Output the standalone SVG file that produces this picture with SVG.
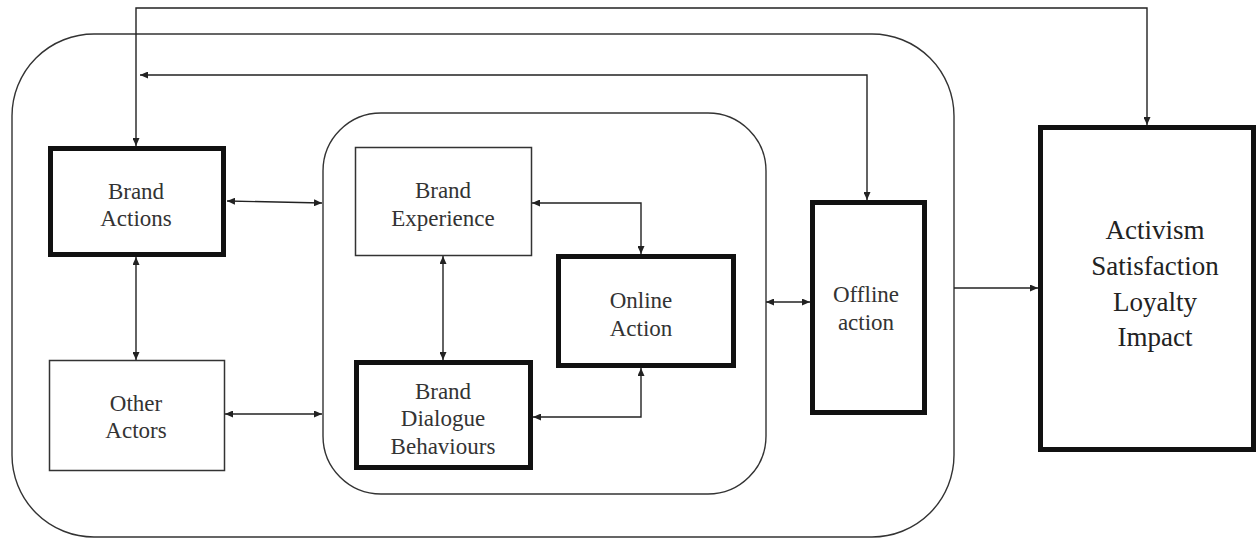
<svg xmlns="http://www.w3.org/2000/svg" width="1258" height="539" viewBox="0 0 1258 539">
  <defs>
    <marker id="arrow" markerUnits="userSpaceOnUse" markerWidth="9" markerHeight="7" refX="8" refY="3.5" orient="auto-start-reverse">
      <path d="M0,0 L8,3.5 L0,7 z" fill="#222"/>
    </marker>
  </defs>
  <style>
    .frame { fill: none; stroke: #333; stroke-width: 1.4; }
    .thin { fill: #fff; stroke: #333; stroke-width: 1.5; }
    .thick { fill: #fff; stroke: #111; stroke-width: 5; }
    .label { font-family: "Liberation Serif", "Times New Roman", serif; font-size: 23px; fill: #333; text-anchor: middle; }
    .big { font-size: 27px; fill: #222; }
    .link { fill: none; stroke: #222; stroke-width: 1.4; }
    .both { marker-start: url(#arrow); marker-end: url(#arrow); }
    .one { marker-end: url(#arrow); }
  </style>

  <rect width="1258" height="539" fill="#fff"/>

  <!-- enclosing frames -->
  <g id="outer-frame">
    <rect class="frame" x="12" y="34" width="942" height="503" rx="82" ry="82"/>
  </g>
  <g id="inner-frame">
    <rect class="frame" x="323" y="113" width="443" height="381" rx="58" ry="58"/>
  </g>

  <!-- connectors -->
  <g id="connectors">
    <path class="link both" d="M1147,125 V8 H136 V146"/>
    <path class="link both" d="M140,75 H867 V200"/>
    <path class="link both" d="M227,201 L322,203"/>
    <path class="link both" d="M225,414 H322"/>
    <path class="link both" d="M136,257 V360"/>
    <path class="link both" d="M443,256 V360"/>
    <path class="link both" d="M641,254 V203 H532"/>
    <path class="link both" d="M641,368 V417 H533"/>
    <path class="link both" d="M766,302 H810"/>
    <path class="link one" d="M954,288 H1038"/>
  </g>

  <g id="brand-actions">
    <rect class="thick" x="50.5" y="148.5" width="173" height="106"/>
    <text class="label" x="136" y="199">Brand</text>
    <text class="label" x="136" y="226">Actions</text>
  </g>

  <g id="other-actors">
    <rect class="thin" x="49.5" y="360.5" width="175" height="110"/>
    <text class="label" x="136" y="411">Other</text>
    <text class="label" x="136" y="438">Actors</text>
  </g>

  <g id="brand-experience">
    <rect class="thin" x="355.5" y="147.5" width="176" height="108"/>
    <text class="label" x="443" y="198">Brand</text>
    <text class="label" x="443" y="226">Experience</text>
  </g>

  <g id="brand-dialogue-behaviours">
    <rect class="thick" x="356.5" y="362.5" width="174" height="105"/>
    <text class="label" x="443" y="399">Brand</text>
    <text class="label" x="443" y="426">Dialogue</text>
    <text class="label" x="443" y="454">Behaviours</text>
  </g>

  <g id="online-action">
    <rect class="thick" x="558.5" y="256.5" width="175" height="109"/>
    <text class="label" x="641" y="308">Online</text>
    <text class="label" x="641" y="336">Action</text>
  </g>

  <g id="offline-action">
    <rect class="thick" x="812.5" y="202.5" width="112" height="210"/>
    <text class="label" x="866" y="302">Offline</text>
    <text class="label" x="866" y="330">action</text>
  </g>

  <g id="outcomes">
    <rect class="thick" x="1040.5" y="127.5" width="213" height="322"/>
    <text class="label big" x="1155" y="239">Activism</text>
    <text class="label big" x="1155" y="275">Satisfaction</text>
    <text class="label big" x="1155" y="311">Loyalty</text>
    <text class="label big" x="1155" y="346">Impact</text>
  </g>
</svg>
